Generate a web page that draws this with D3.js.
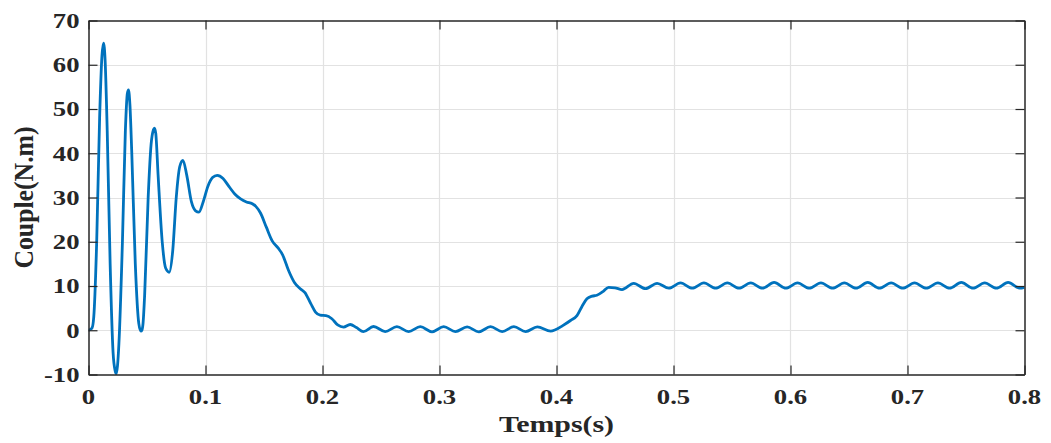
<!DOCTYPE html>
<html><head><meta charset="utf-8">
<script src="https://cdn.jsdelivr.net/npm/d3@7"></script>
<style>html,body{margin:0;padding:0;background:#fff;}svg{display:block;}</style>
</head><body>
<svg id="chart" width="1051" height="443"></svg>
<script>
const xTicks = [0, 0.1, 0.2, 0.3, 0.4, 0.5, 0.6, 0.7, 0.8];
const xTickLabels = ["0", "0.1", "0.2", "0.3", "0.4", "0.5", "0.6", "0.7", "0.8"];
const yTicks = [-10, 0, 10, 20, 30, 40, 50, 60, 70];
const yTickLabels = ["-10", "0", "10", "20", "30", "40", "50", "60", "70"];
const xLabel = "Temps(s)";
const yLabel = "Couple(N.m)";

// transient part (time s, torque N.m)
const tTransient = [0, 0.003, 0.0045, 0.007, 0.0095, 0.0115, 0.0128, 0.0142, 0.016, 0.0185, 0.021, 0.0228, 0.0237, 0.0248, 0.026, 0.029, 0.0315, 0.0332, 0.0342, 0.0354, 0.037, 0.040, 0.043, 0.0448, 0.0456, 0.0466, 0.048, 0.051, 0.0535, 0.0555, 0.0564, 0.0575, 0.0595, 0.063, 0.066, 0.069, 0.072, 0.075, 0.078, 0.0807, 0.084, 0.088, 0.0915, 0.0944, 0.098, 0.102, 0.106, 0.110, 0.115, 0.12, 0.125, 0.13, 0.135, 0.14, 0.143, 0.147, 0.152, 0.157, 0.162, 0.166, 0.171, 0.176, 0.181, 0.185, 0.19, 0.194, 0.198, 0.203, 0.208, 0.213, 0.218, 0.2237, 0.229, 0.235];
const vTransient = [0, 0.5, 3, 20, 48, 62, 64.9, 61, 45, 15, -5, -9.2, -9.8, -8, -3, 20, 45, 53.5, 54.3, 51, 40, 15, 1.5, -0.2, 0, 1.5, 8, 30, 42, 45.3, 45.7, 44.5, 35, 20, 14, 13.1, 18, 30, 37, 38.4, 35, 29, 27, 26.7, 29, 32.5, 34.5, 35.0, 34.3, 32.5, 30.8, 29.7, 29.0, 28.6, 28, 26.5, 23.3, 20.2, 18.6, 17, 13.5, 10.8, 9.4, 8.5, 6, 4.1, 3.4, 3.3, 2.6, 1.2, 0.7, 1.3, 0.6, -0.3];

// ripple around 0 during 0.24-0.40 s (peaks and troughs)
const tLowRipple = [0.2436, 0.2536, 0.2636, 0.2736, 0.2836, 0.2936, 0.3036, 0.3136, 0.3236, 0.3336, 0.3436, 0.3536, 0.3636, 0.3736, 0.3836, 0.3950];
const vLowRipple = [0.85, -0.3, 0.8, -0.3, 0.8, -0.35, 0.8, -0.3, 0.75, -0.35, 0.8, -0.3, 0.8, -0.3, 0.75, -0.2];

// rise to load torque
const tRise = [0.399, 0.405, 0.412, 0.4175, 0.422, 0.426, 0.4305, 0.4345, 0.44, 0.4445, 0.45, 0.456];
const vRise = [0.1, 1.0, 2.2, 3.3, 5.5, 7.1, 7.7, 7.9, 8.8, 9.7, 9.6, 9.2];

// steady-state ripple around 10 N.m (peaks and troughs)
const tHighRipple = [0.466, 0.476, 0.486, 0.496, 0.506, 0.516, 0.526, 0.536, 0.546, 0.556, 0.566, 0.576, 0.586, 0.596, 0.606, 0.616, 0.626, 0.636, 0.646, 0.656, 0.666, 0.676, 0.686, 0.696, 0.706, 0.716, 0.726, 0.736, 0.746, 0.756, 0.766, 0.776, 0.786, 0.796, 0.800];
const vHighRipple = [10.6, 9.4, 10.6, 9.5, 10.7, 9.5, 10.7, 9.5, 10.7, 9.5, 10.7, 9.5, 10.8, 9.5, 10.7, 9.5, 10.7, 9.5, 10.7, 9.5, 10.8, 9.5, 10.7, 9.5, 10.7, 9.5, 10.7, 9.5, 10.8, 9.5, 10.7, 9.5, 10.8, 9.5, 9.7];

const times = [].concat(tTransient, tLowRipple, tRise, tHighRipple);
const values = [].concat(vTransient, vLowRipple, vRise, vHighRipple);
const data = times.map((t, i) => ({t: t, v: values[i]}));

const margin = {left: 88.5, right: 1024.5, top: 20.5, bottom: 374.5};
const svg = d3.select("#chart");
const x = d3.scaleLinear().domain([0, 0.8]).range([margin.left, margin.right]);
const y = d3.scaleLinear().domain([-10, 70]).range([margin.bottom, margin.top]);

const fontFam = "'Liberation Serif','Times New Roman',serif";
const gridColor = "#e2e2e2";
const axColor = "#262626";
const stretchX = 1.27;

// grid
svg.append("g").selectAll("line").data(xTicks.slice(1, -1)).join("line")
  .attr("x1", d => Math.round(x(d)) + 0.5).attr("x2", d => Math.round(x(d)) + 0.5)
  .attr("y1", margin.top).attr("y2", margin.bottom)
  .attr("stroke", gridColor).attr("stroke-width", 1.2);
svg.append("g").selectAll("line").data(yTicks.slice(1, -1)).join("line")
  .attr("y1", d => Math.round(y(d)) + 0.5).attr("y2", d => Math.round(y(d)) + 0.5)
  .attr("x1", margin.left).attr("x2", margin.right)
  .attr("stroke", gridColor).attr("stroke-width", 1.2);

// data line
svg.append("clipPath").attr("id", "clip").append("rect")
  .attr("x", margin.left).attr("y", margin.top - 2)
  .attr("width", margin.right - margin.left).attr("height", margin.bottom - margin.top + 4);
svg.append("path").datum(data)
  .attr("clip-path", "url(#clip)")
  .attr("fill", "none").attr("stroke", "#0072BD").attr("stroke-width", 2.8)
  .attr("stroke-linejoin", "round")
  .attr("d", d3.line().x(d => x(d.t)).y(d => y(d.v)).curve(d3.curveMonotoneX));

// axes (ticks inward, box)
const tickLen = 9;
const axBottom = d3.axisBottom(x).tickValues(xTicks).tickFormat("").tickSizeInner(-tickLen).tickSizeOuter(0);
const axTop = d3.axisTop(x).tickValues(xTicks).tickFormat("").tickSizeInner(-tickLen).tickSizeOuter(0);
const axLeft = d3.axisLeft(y).tickValues(yTicks).tickFormat("").tickSizeInner(-tickLen).tickSizeOuter(0);
const axRight = d3.axisRight(y).tickValues(yTicks).tickFormat("").tickSizeInner(-tickLen).tickSizeOuter(0);

function style(g) {
  g.selectAll("path.domain").attr("stroke", axColor).attr("stroke-width", 1.5);
  g.selectAll(".tick line").attr("stroke", axColor).attr("stroke-width", 1.2);
}
svg.append("g").attr("transform", `translate(0,${margin.bottom})`).call(axBottom).call(style);
svg.append("g").attr("transform", `translate(0,${margin.top})`).call(axTop).call(style);
svg.append("g").attr("transform", `translate(${margin.left},0)`).call(axLeft).call(style);
svg.append("g").attr("transform", `translate(${margin.right},0)`).call(axRight).call(style);

// tick labels (reference text is horizontally stretched)
svg.append("g").selectAll("text").data(xTicks).join("text")
  .attr("transform", d => `translate(${x(d)},404) scale(${stretchX},1)`)
  .attr("text-anchor", "middle").attr("font-family", fontFam).attr("font-weight", "bold")
  .attr("font-size", "21px").attr("fill", axColor)
  .text((d, i) => xTickLabels[i]);
svg.append("g").selectAll("text").data(yTicks).join("text")
  .attr("transform", d => `translate(79.5,${y(d) + 7.3}) scale(${stretchX},1)`)
  .attr("text-anchor", "end").attr("font-family", fontFam).attr("font-weight", "bold")
  .attr("font-size", "21px").attr("fill", axColor)
  .text((d, i) => yTickLabels[i]);

// axis labels
svg.append("text")
  .attr("transform", `translate(${(margin.left + margin.right) / 2},431.5) scale(1.3,1)`)
  .attr("text-anchor", "middle").attr("font-family", fontFam).attr("font-weight", "bold")
  .attr("font-size", "23px").attr("fill", axColor).text(xLabel);
svg.append("text")
  .attr("transform", `translate(33.3,${(margin.top + margin.bottom) / 2}) rotate(-90) scale(1.17,1.28)`)
  .attr("text-anchor", "middle").attr("font-family", fontFam).attr("font-weight", "bold")
  .attr("font-size", "22px").attr("fill", axColor).text(yLabel);
</script>
</body></html>
